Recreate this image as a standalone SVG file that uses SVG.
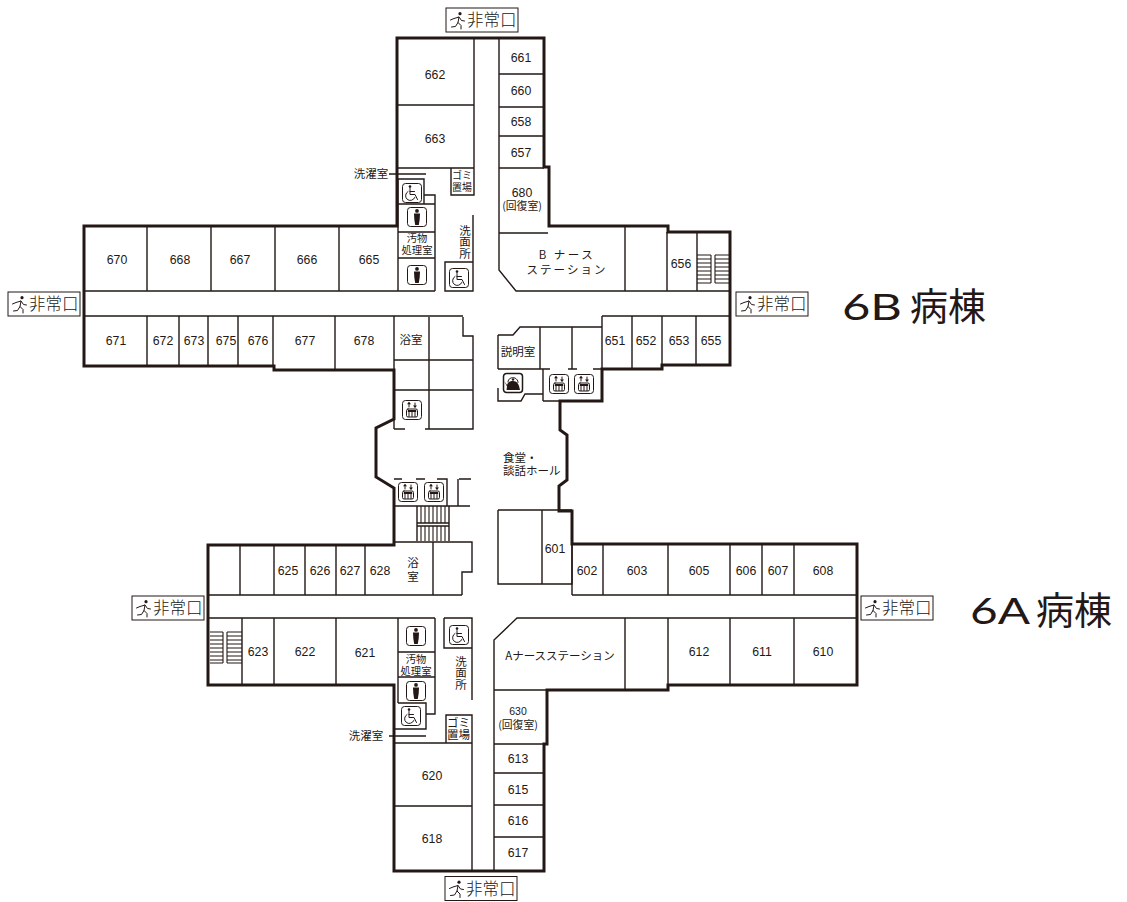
<svg xmlns="http://www.w3.org/2000/svg" xmlns:xlink="http://www.w3.org/1999/xlink" width="1127" height="902" viewBox="0 0 1127 902">
<style>
.thin{fill:none;stroke:#231815;stroke-width:1.4}
.hair{fill:none;stroke:#231815;stroke-width:1.1}
.wall{fill:none;stroke:#231815;stroke-width:3;stroke-linejoin:miter}
.icon{fill:#fff;stroke:#231815;stroke-width:1}
.ink{fill:#231815;stroke:none}
.line{fill:none;stroke:#231815;stroke-width:1;stroke-linecap:round}
text{fill:#231815;font-family:"Liberation Sans","Noto Sans CJK JP",sans-serif}
.r{font-size:12.3px;text-anchor:middle}
.j{font-family:"Noto Sans CJK JP","Liberation Sans",sans-serif;font-size:11.5px;text-anchor:middle;font-weight:400}
.jl{font-family:"Noto Sans CJK JP","Liberation Sans",sans-serif;font-size:11.5px;font-weight:400}
.v{font-family:"Noto Sans CJK JP","Liberation Sans",sans-serif;font-size:11.5px;font-weight:400;writing-mode:vertical-rl;text-anchor:middle}
.x{font-family:"Noto Sans CJK JP",sans-serif;font-size:16.5px;font-weight:300}
.t{font-family:"Noto Sans CJK JP",sans-serif;font-size:38px}
.h{font-family:"Lato","Noto Sans",sans-serif;font-size:37px}
</style>
<defs>
<g id="wheel"><rect class="icon" x=".5" y=".5" width="19" height="19" rx="3"/><circle class="ink" cx="8" cy="3.6" r="1.3"/><path class="line" d="M8 5.500V11.500H13L15.500 16.500M8 8.500H12.500M6 8.500A4.800 4.800 0 1 0 12.800 14.500"/></g>
<g id="wc"><rect class="icon" x=".5" y=".5" width="19" height="19" rx="3"/><circle class="ink" cx="10" cy="3.9" r="1.9"/><path class="ink" d="M7 6.500H13L12.600 13L11.800 18H8.200L7.400 13Z"/></g>
<g id="ev"><rect class="icon" x=".5" y=".5" width="19" height="19" rx="3"/><path class="line" d="M7 7V3M13 3V7"/><path class="ink" d="M7 1.800L9 4.200H5ZM13 8L15 5.600H11Z"/><rect class="line" x="4.500" y="9" width="11" height="8" rx="1.500"/><path class="line" d="M7 12V16.500M10 12V16.500M13 12V16.500"/><path class="ink" d="M5.800 10H14.200V12H5.800Z"/></g>
<g id="ket"><rect class="icon" x=".5" y=".5" width="19" height="19" rx="3" style="stroke-width:1.5"/><path class="ink" d="M1 8L4 12C5 9 7 8 10 8C14 8 16 11 17 17H3.500L4 13.500Z"/><path class="line" d="M5 9C5 3 15 3 15 9.500"/><circle class="ink" cx="10" cy="6.500" r="1.200"/></g>
<g id="run"><circle class="ink" cx="9.500" cy="2.200" r="1.600"/><path class="line" d="M0 8.500L3.500 7L8.500 5.500L7.500 11L10.500 14L10.500 17.500M7.500 11L5 15L1 15.500M8.500 5.500L11 9L14 9.500"/></g>
<g id="exit"><rect x=".5" y=".5" width="72" height="24" fill="#fff" stroke="#231815" stroke-width="1"/><use href="#run" xlink:href="#run" x="5" y="4"/><text class="x" x="21.500" y="18.500">非常口</text></g>
</defs>

<g id="walls">
<path class="wall" d="M84 226H397V38H544V167H549V226H668V232H730V365H662V369H602V401H560V430L567 435V480L559 486V511H572V544H857V685H668V690H547V744H544V871H394V685H208V545H394V488L376 477V428L394 419V370H274V366H84Z"/>
</g>

<g id="partitions">
<path class="thin" d="M474 38V168M499 38V233M397 105H474M397 168H474M499 74H544M499 107H544M499 136H544M499 168H544"/>
<path class="thin" d="M499 233H548M499 233V270L516 291H730M625 226V291M667 232V291M697 232V291"/>
<path class="thin" d="M84 291H435M84 316H463M147 226V291M211 226V291M275 226V291M339 226V291M398 179V291M398 179H424V204M398 204H435M424 195H435V291M398 232H435M398 258H435"/>
<path class="thin" d="M147 316V366M179 316V366M208 316V366M238 316V366M273 316V366M335 316V370M394 316V429M394 429H405M429 317V429M463 317V336H473V429H425M394 360H473M394 390H473"/>
<path class="thin" d="M473 215V291H445V262H473"/>
<path class="thin" d="M451 168V195H474V168"/>
<path class="thin" d="M389 174H426"/>
<path class="thin" d="M602 316H730M632 316V369M662 316V365M696 316V365M602 316V369"/>
<path class="thin" d="M498 335H513L520 327H602M498 335V369M540 327V369M572 327V369M498 369H550M568 369H577M593 369H602M543 369V401M498 388V401H521L525 394H543M543 401H560"/>
<path class="thin" d="M394 479H402M416 479H425M437 479H447V506M458 479V506M459 479H471M394 506H470"/>
<path class="thin" d="M417 506V541M449 506V541M417 523H449M417 526H449M394 542H472V572H462V595M433 542V595"/>
<path class="hair" d="M421 506V523M425 506V523M429 506V523M433 506V523M437 506V523M441 506V523M445 506V523M421 526V541M425 526V541M429 526V541M433 526V541M437 526V541M441 526V541M445 526V541"/>
<path class="thin" d="M208 595H462M208 618H435M240 545V595M274 545V595M305 545V595M336 545V595M365 545V595M242 618V685M274 618V685M336 618V685M398 618V685M398 652H435M398 677H435M398 703H426V729H395M398 685V703M435 618V714H426"/>
<path class="thin" d="M444 618H472V700M444 618V648H472"/>
<path class="thin" d="M446 743V715H472V871M394 743H472M394 806H472M389 736H426"/>
<path class="thin" d="M498 510H572M498 510V584H572V511M542 510V584"/>
<path class="thin" d="M572 595H857M603 544V595M668 544V595M730 544V595M762 544V595M794 544V595M572 544V595"/>
<path class="thin" d="M494 871V640L517 618H857M625 618V690M668 618V690M730 618V685M794 618V685M494 690H547M494 744H547M494 773H544M494 805H544M494 837H544"/>
<path class="hair" d="M697 255H711M697 259H711M697 263H711M697 267H711M697 271H711M697 275H711M697 279H711M697 283H711M715 255H729M715 259H729M715 263H729M715 267H729M715 271H729M715 275H729M715 279H729M715 283H729M711 255V283M715 255V283"/>
<path class="hair" d="M210 632H223M210 636H223M210 640H223M210 644H223M210 648H223M210 652H223M210 656H223M210 660H223M210 663H223M227 632H242M227 636H242M227 640H242M227 644H242M227 648H242M227 652H242M227 656H242M227 660H242M227 663H242M223 632V663M227 632V663"/>
</g>

<g id="icons">
<use href="#wheel" xlink:href="#wheel" x="402" y="183"/>
<use href="#wc" xlink:href="#wc" x="407" y="207"/>
<use href="#wc" xlink:href="#wc" x="407" y="265"/>
<use href="#wheel" xlink:href="#wheel" x="449" y="268"/>
<use href="#ev" xlink:href="#ev" x="402" y="400"/>
<use href="#ket" xlink:href="#ket" x="503" y="373"/>
<use href="#ev" xlink:href="#ev" x="549" y="374"/>
<use href="#ev" xlink:href="#ev" x="574" y="374"/>
<use href="#ev" xlink:href="#ev" x="398" y="482"/>
<use href="#ev" xlink:href="#ev" x="424" y="482"/>
<use href="#wc" xlink:href="#wc" x="406" y="626"/>
<use href="#wc" xlink:href="#wc" x="406" y="681"/>
<use href="#wheel" xlink:href="#wheel" x="401" y="706"/>
<use href="#wheel" xlink:href="#wheel" x="449" y="625"/>
</g>

<g id="exits">
<use href="#exit" xlink:href="#exit" x="445.500" y="7.500"/>
<use href="#exit" xlink:href="#exit" x="735.500" y="291.500"/>
<use href="#exit" xlink:href="#exit" x="7.500" y="291.500"/>
<use href="#exit" xlink:href="#exit" x="131.500" y="595.500"/>
<use href="#exit" xlink:href="#exit" x="860.500" y="595.500"/>
<use href="#exit" xlink:href="#exit" x="444.500" y="876"/>
</g>

<g id="room-numbers">
<text class="r" x="435" y="79">662</text><text class="r" x="435" y="143">663</text>
<text class="r" x="521" y="62">661</text><text class="r" x="521" y="95">660</text><text class="r" x="521" y="126">658</text><text class="r" x="521" y="157">657</text>
<text class="r" x="522" y="197">680</text>
<text class="r" x="117" y="264">670</text><text class="r" x="180" y="264">668</text><text class="r" x="240" y="264">667</text><text class="r" x="307" y="264">666</text><text class="r" x="369" y="264">665</text>
<text class="r" x="681" y="268">656</text>
<text class="r" x="615" y="345">651</text><text class="r" x="646" y="345">652</text><text class="r" x="679" y="345">653</text><text class="r" x="711" y="345">655</text>
<text class="r" x="116" y="345">671</text><text class="r" x="163" y="345">672</text><text class="r" x="194" y="345">673</text><text class="r" x="226" y="345">675</text><text class="r" x="258" y="345">676</text><text class="r" x="305" y="345">677</text><text class="r" x="364" y="345">678</text>
<text class="r" x="555" y="553">601</text><text class="r" x="587" y="575">602</text><text class="r" x="637" y="575">603</text><text class="r" x="699" y="575">605</text><text class="r" x="746" y="575">606</text><text class="r" x="778" y="575">607</text><text class="r" x="823" y="575">608</text>
<text class="r" x="288" y="575">625</text><text class="r" x="320" y="575">626</text><text class="r" x="350" y="575">627</text><text class="r" x="380" y="575">628</text>
<text class="r" x="258" y="656">623</text><text class="r" x="305" y="656">622</text><text class="r" x="365" y="657">621</text>
<text class="r" x="699" y="656">612</text><text class="r" x="762" y="656">611</text><text class="r" x="823" y="656">610</text>
<text class="r" x="518" y="715" style="font-size:10.500px">630</text>
<text class="r" x="518" y="763">613</text><text class="r" x="518" y="794">615</text><text class="r" x="518" y="825">616</text><text class="r" x="518" y="857">617</text>
<text class="r" x="432" y="780">620</text><text class="r" x="432" y="843">618</text>
</g>

<g id="room-names">
<text class="j" x="522" y="210" style="font-size:10.800px">(回復室)</text>
<text class="j" x="518" y="729" style="font-size:10.800px">(回復室)</text>
<text class="j" x="371" y="178">洗濯室</text>
<text class="j" x="366" y="740">洗濯室</text>
<text class="j" style="font-size:10px"><tspan x="462" y="179">ゴミ</tspan><tspan x="462" y="191">置場</tspan></text>
<text class="j" style="font-size:11.500px"><tspan x="458.500" y="727">ゴミ</tspan><tspan x="458.500" y="739">置場</tspan></text>
<text class="j" style="font-size:10.300px"><tspan x="417" y="242">汚物</tspan><tspan x="417" y="253.500">処理室</tspan></text>
<text class="j" style="font-size:10.300px"><tspan x="416" y="663">汚物</tspan><tspan x="416" y="674.500">処理室</tspan></text>
<text class="v" x="465" y="242">洗面所</text>
<text class="v" x="461" y="673">洗面所</text>
<text class="j" style="letter-spacing:2.500px"><tspan x="567" y="259">B ナース</tspan><tspan x="567" y="274" style="letter-spacing:2px">ステーション</tspan></text>
<text class="j" x="560" y="660">Aナースステーション</text>
<text class="j" x="518" y="356">説明室</text>
<text class="j" x="411" y="344">浴室</text>
<text class="v" x="413" y="571" style="letter-spacing:3px">浴室</text>
<text class="jl"><tspan x="503" y="461.500">食堂・</tspan><tspan x="503" y="475">談話ホール</tspan></text>
</g>

<g id="titles">
<text class="h" x="842" y="320" textLength="60" lengthAdjust="spacingAndGlyphs">6B</text>
<text class="t" x="910" y="320">病棟</text>
<text class="h" x="970" y="624" textLength="60" lengthAdjust="spacingAndGlyphs">6A</text>
<text class="t" x="1036" y="624">病棟</text>
</g>
</svg>
